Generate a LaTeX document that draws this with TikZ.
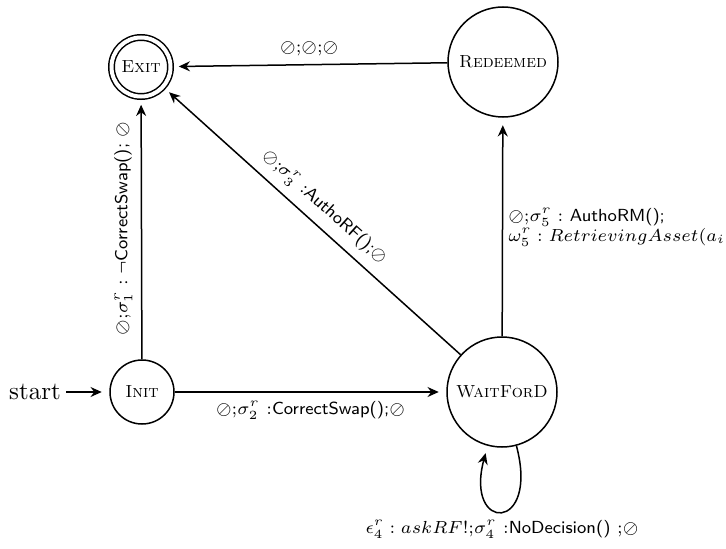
\documentclass[tikz,border=0pt]{standalone}
\usepackage{amsmath,amssymb}
\usetikzlibrary{arrows.meta}
\begin{document}
\begin{tikzpicture}[x=0.4pt,y=0.4pt,>={Stealth[length=4.5pt,width=4pt,inset=1.5pt]},
    statenode/.style={circle,draw,semithick,font=\scriptsize,inner sep=1pt},
    trans/.style={->,semithick,shorten >=3pt},
    lbl/.style={font=\scriptsize}]
  \useasboundingbox (0,0) rectangle (726,548);

  % States
  \node[statenode,minimum size=25.6pt] (init) at (142,156) {\textsc{Init}};
  \node[statenode,minimum size=23.6pt,double,double distance=1.6pt] (exit) at (141,481) {\textsc{Exit}};
  \node[statenode,minimum size=44pt] (redeemed) at (503,486) {\textsc{Redeemed}};
  \node[statenode,minimum size=44pt] (waitford) at (502,156) {\textsc{WaitForD}};

  % Initial arrow
  \node[inner sep=2pt] (start) at (35,156) {start};
  \draw[trans] (start) -- (init);

  % Transitions
  \draw[trans] (redeemed) -- node[lbl,above] {$\oslash$;$\oslash$;$\oslash$} (exit);
  \draw[trans] (init) -- node[lbl,rotate=90,anchor=south]
    {$\oslash$;$\sigma_1^r:\neg$\textsf{CorrectSwap();} $\oslash$} (exit);
  \draw[trans] (init) -- node[lbl,below]
    {$\oslash$;$\sigma_2^r$ :\textsf{CorrectSwap();}$\oslash$} (waitford);
  \draw[trans] (waitford) -- node[lbl,rotate=-42,anchor=south]
    {$\oslash$;$\sigma_3^r$ :\textsf{AuthoRF();}$\oslash$} (exit);
  \draw[trans] (waitford) -- node[lbl,right,align=left,inner sep=2pt]
    {$\oslash$;$\sigma_5^r:$ \textsf{AuthoRM();}\\$\omega_5^r: RetrievingAsset(a_i)$} (redeemed);

  % Self loop
  \draw[trans] (waitford) to[loop below] node[lbl,below]
    {$\epsilon_4^r: askRF$!;$\sigma_4^r$ :\textsf{NoDecision()} ;$\oslash$} (waitford);
\end{tikzpicture}
\end{document}
